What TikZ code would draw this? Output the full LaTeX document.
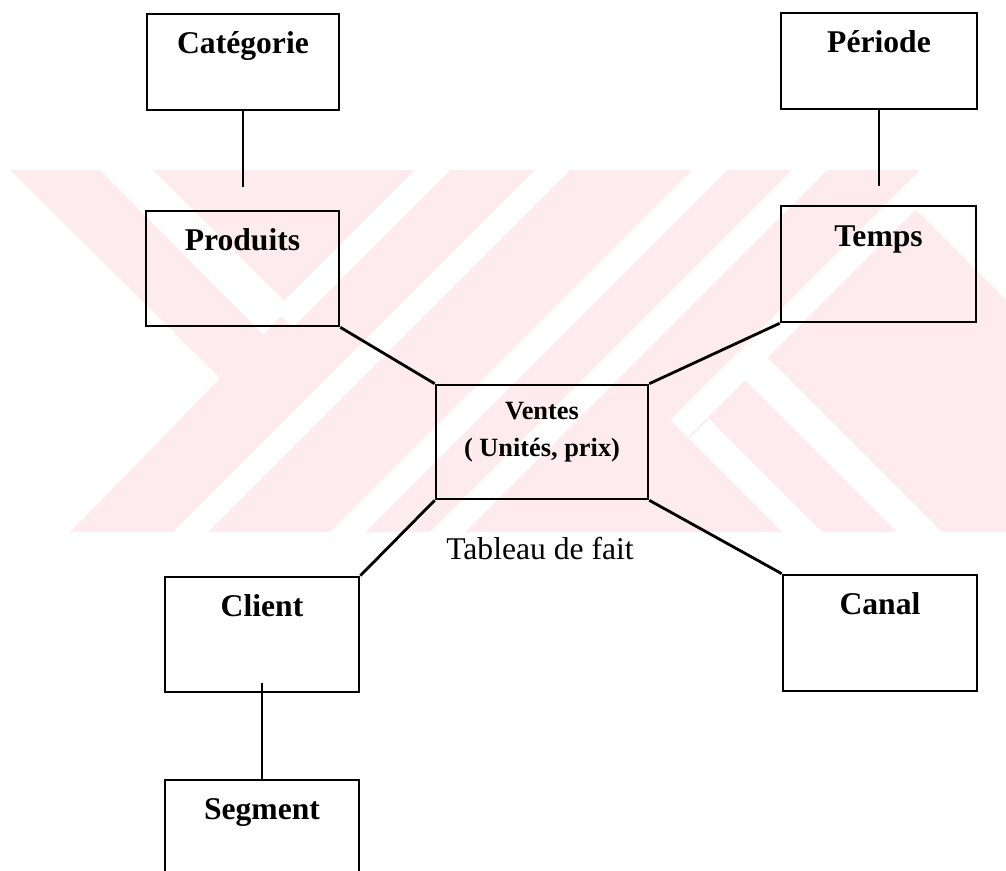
\documentclass[tikz,border=0pt]{standalone}
\usepackage{fontspec}
\setmainfont{Liberation Serif}
\usepackage{xcolor}
\usetikzlibrary{positioning}
\definecolor{wpink}{HTML}{FDEBEF}

\tikzset{
  dimbox/.style={draw=black, line width=1.5pt, inner sep=0pt, minimum width=3.88cm, minimum height=2.30cm},
  dimname/.style={font=\fontsize{18}{21}\selectfont\bfseries, anchor=base, inner sep=0pt},
  factname/.style={font=\fontsize{15}{18}\selectfont\bfseries, anchor=base, inner sep=0pt},
  link/.style={line width=1.6pt},
}

\begin{document}
\begin{tikzpicture}[x=1cm, y=1cm]
\fill[white] (0,0) rectangle (20.12,17.4);
\useasboundingbox (0,0) rectangle (20.12,17.4);

\begin{scope}[yshift=17.4cm, x=0.02cm, y=-0.02cm]
\clip (0,170) rectangle (1006,532);
\fill[wpink] (0,170) rectangle (1006,532);
\fill[white] (0,170) -- (10,170) -- (220,378) -- (70,532) -- (0,532) -- cycle;
\fill[white] (100,170) -- (153,170) -- (290,307) -- (263,334) -- cycle;
\fill[white] (275,310) -- (415,170) -- (450,170) -- (292.5,327.5) -- cycle;
\foreach \c in {705,862,962}
  \fill[white] (\c-532,532) -- (\c-170,170) -- (\c+35-170,170) -- (\c+35-532,532) -- cycle;
\fill[white] (670,420) -- (920,170) -- (955,170) -- (687.5,437.5) -- cycle;
\fill[white] (920,170) -- (1006,170) -- (1006,300) -- (898,192) -- cycle;
\fill[white] (731,366) -- (753.5,343.5) -- (942,532) -- (897,532) -- cycle;
\fill[white] (689,439) -- (709,419) -- (822,532) -- (782,532) -- cycle;
\end{scope}

\node[dimbox, minimum width=3.84cm, minimum height=1.92cm] (cat) at (4.86,16.16) {};
\node[dimname] (cat-t) at ([yshift=-0.82cm]cat.north) {Catégorie};
\node[dimbox, minimum width=3.86cm] (prod) at (4.85,12.03) {};
\node[dimname] (prod-t) at ([yshift=-0.82cm]prod.north) {Produits};
\node[dimbox, minimum width=3.92cm, minimum height=1.92cm] (per) at (17.58,16.18) {};
\node[dimname] (per-t) at ([yshift=-0.82cm]per.north) {Période};
\node[dimbox, minimum width=3.90cm, minimum height=2.32cm] (temps) at (17.57,12.12) {};
\node[dimname] (temps-t) at ([yshift=-0.84cm]temps.north) {Temps};
\node[dimbox, minimum width=4.24cm, minimum height=2.28cm] (ventes) at (10.84,8.56) {};
\node[factname] (ventes-t1) at ([yshift=-0.72cm]ventes.north) {Ventes};
\node[factname] (ventes-t2) at ([yshift=-1.46cm]ventes.north) {( Unités, prix)};
\node[font=\fontsize{18}{21}\selectfont, anchor=base, inner sep=0pt] (fait) at (10.8,6.22) {Tableau de fait};
\node[dimbox] (client) at (5.24,4.71) {};
\node[dimname] (client-t) at ([yshift=-0.82cm]client.north) {Client};
\node[dimbox, minimum height=2.32cm] (canal) at (17.60,4.74) {};
\node[dimname] (canal-t) at ([yshift=-0.82cm]canal.north) {Canal};
\node[dimbox] (seg) at (5.24,0.65) {};
\node[dimname] (seg-t) at ([yshift=-0.82cm]seg.north) {Segment};

\coordinate (cat-end) at (4.86,13.65);
\coordinate (per-end) at (17.58,13.68);
\coordinate (client-in) at (5.24,3.74);

\draw[link] (cat.south) -- (cat-end);
\draw[link] (per.south) -- (per-end);
\draw[link] (client-in) -- (seg.north);
\draw[link] (prod.south east) -- (ventes.north west);
\draw[link] (temps.south west) -- (ventes.north east);
\draw[link] (ventes.south west) -- (client.north east);
\draw[link] (ventes.south east) -- (canal.north west);
\end{tikzpicture}
\end{document}
